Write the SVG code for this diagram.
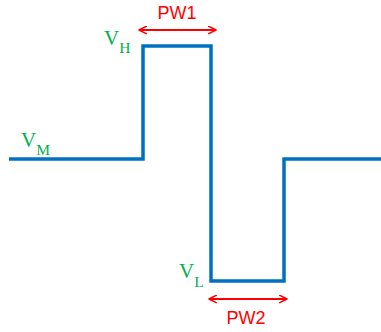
<svg xmlns="http://www.w3.org/2000/svg" width="381" height="332" viewBox="0 0 381 332">
<defs>
<style>
.wave{fill:none;stroke:#0070C0;stroke-width:3.5;stroke-linejoin:miter}
.dim{fill:none;stroke:#FF0000;stroke-width:1.8}
.head{fill:none;stroke:#FF0000;stroke-width:1.8;stroke-linecap:round;stroke-linejoin:round}
.lbl{font-family:"Liberation Sans",Arial,sans-serif;font-size:18px;fill:#FF0000;text-anchor:middle}
.v{font-family:"Liberation Serif","Times New Roman",serif;font-size:21px;fill:#00B050}
.sub{font-size:15.5px}
</style>
<marker id="ah" viewBox="0 0 10 10" refX="9" refY="5" markerWidth="9" markerHeight="9" markerUnits="userSpaceOnUse" orient="auto-start-reverse">
<path d="M1,1 L9,5 L1,9" class="head"/>
</marker>
</defs>
<g id="waveform">
<path class="wave" d="M9,159 H143 V46 H211 V281 H284 V159 H381"/>
</g>
<g id="connectors">
<line class="dim" x1="139" y1="30" x2="216" y2="30" marker-start="url(#ah)" marker-end="url(#ah)"/>
<line class="dim" x1="209" y1="299" x2="287" y2="299" marker-start="url(#ah)" marker-end="url(#ah)"/>
</g>
<g id="pw1"><text class="lbl" x="177" y="19">PW1</text></g>
<g id="pw2"><text class="lbl" x="246" y="324">PW2</text></g>
<g id="vh"><text class="v" x="104" y="45">V<tspan class="sub" dy="8">H</tspan></text></g>
<g id="vm"><text class="v" x="21" y="147">V<tspan class="sub" dy="8">M</tspan></text></g>
<g id="vl"><text class="v" x="179" y="278">V<tspan class="sub" dy="9">L</tspan></text></g>
</svg>
